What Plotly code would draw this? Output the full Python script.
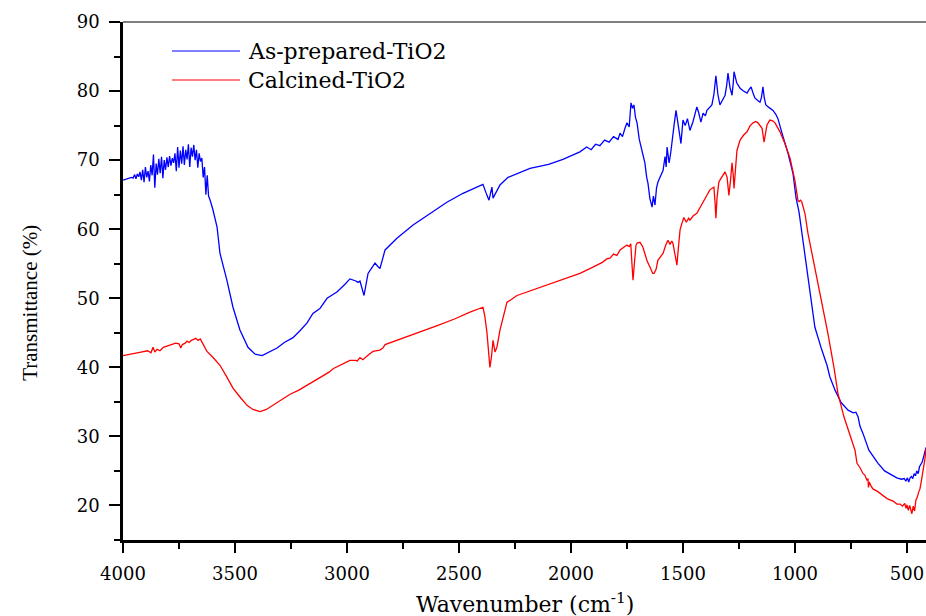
import plotly.graph_objects as go

# ---------------- data ----------------
series_names = ["As-prepared-TiO2", "Calcined-TiO2"]
series_colors = ["#0000ff", "#ff0000"]

asprep_wn = [4000, 3990, 3975, 3962, 3955, 3948, 3942, 3936, 3930, 3924, 3918, 3912, 3906, 3900, 3894,
             3888, 3882, 3876, 3870, 3864, 3858, 3852, 3846, 3840, 3834, 3828, 3822, 3816, 3810, 3804,
             3798, 3792, 3786, 3780, 3774, 3768, 3762, 3756, 3750, 3744, 3738, 3732, 3726, 3720, 3714,
             3708, 3702, 3696, 3690, 3684, 3678, 3672, 3666, 3660, 3654, 3648, 3642, 3636, 3630, 3624,
             3618, 3612, 3600, 3590, 3580, 3567, 3536, 3509, 3478, 3442, 3410, 3379, 3345, 3312, 3280,
             3241, 3210, 3179, 3152, 3121, 3089, 3045, 3010, 2987, 2960, 2951, 2942, 2924, 2906, 2875,
             2862, 2853, 2830, 2777, 2705, 2630, 2554, 2482, 2393, 2375, 2366, 2353, 2348, 2317, 2281,
             2183, 2100, 2036, 1960, 1930, 1910, 1890, 1871, 1850, 1830, 1810, 1790, 1781, 1770, 1760,
             1750, 1740, 1732, 1725, 1719, 1712, 1705, 1695, 1683, 1670, 1662, 1656, 1648, 1638, 1632,
             1625, 1618, 1612, 1600, 1589, 1580, 1575, 1571, 1562, 1555, 1549, 1540, 1531, 1524, 1518,
             1509, 1500, 1490, 1480, 1469, 1455, 1445, 1438, 1430, 1420, 1410, 1400, 1393, 1380, 1371,
             1362, 1353, 1344, 1335, 1325, 1312, 1305, 1299, 1290, 1281, 1276, 1272, 1260, 1245, 1230,
             1214, 1205, 1196, 1188, 1179, 1165, 1156, 1150, 1143, 1137, 1130, 1115, 1098, 1085, 1076,
             1058, 1031, 1009, 995, 982, 964, 947, 929, 911, 880, 857, 844, 821, 794, 763,
             740, 728, 718, 710, 696, 670, 629, 600, 567, 545, 525, 512, 505, 498, 492,
             486, 480, 474, 468, 462, 456, 450, 444, 438, 432, 426, 420, 415]
asprep_T = [67.1, 67.2, 67.3, 67.5, 67.4, 67.9, 67.3, 68.0, 67.6, 68.3, 67.1, 68.6, 66.8, 69.0, 67.5,
            68.4, 66.9, 69.3, 67.8, 70.8, 66.0, 69.5, 67.9, 70.2, 68.1, 70.5, 67.4, 70.0, 68.6, 70.4,
            69.0, 70.6, 69.2, 70.3, 69.6, 71.0, 68.4, 71.9, 68.9, 71.4, 69.5, 72.0, 69.3, 71.5, 70.1,
            72.3, 69.0, 71.8, 70.5, 72.2, 70.0, 71.5, 68.9, 71.0, 69.8, 70.3, 67.5, 69.0, 65.0, 67.8,
            64.8, 64.3, 63.0, 61.5, 60.3, 56.5, 52.6, 48.7, 45.4, 42.9, 41.9, 41.7, 42.2, 42.8, 43.6,
            44.3, 45.3, 46.4, 47.8, 48.5, 50.0, 50.9, 52.0, 52.8, 52.5, 52.3, 52.5, 50.4, 53.6, 55.1,
            54.6, 54.3, 57.0, 58.7, 60.6, 62.3, 63.9, 65.2, 66.5, 64.9, 64.2, 66.1, 64.5, 66.4, 67.5,
            68.8, 69.4, 70.1, 71.2, 71.9, 71.5, 72.3, 72.1, 72.9, 72.6, 73.4, 73.0, 73.9, 73.4, 74.5,
            75.4, 74.8, 78.3, 77.5, 78.0, 76.2, 75.4, 73.0, 71.4, 69.6, 67.5, 66.6, 64.5, 63.2, 64.8,
            63.5, 66.0, 66.8, 67.7, 68.5, 70.5, 69.0, 71.9, 69.6, 71.0, 72.9, 75.0, 77.2, 75.8, 74.6,
            72.4, 75.8, 75.0, 76.0, 74.3, 75.6, 76.8, 77.7, 76.9, 75.5, 76.8, 76.4, 77.2, 77.6, 78.0,
            79.5, 82.2, 79.5, 78.0, 78.6, 79.4, 80.8, 82.6, 80.5, 79.4, 81.0, 82.8, 81.2, 80.4, 80.0,
            79.7, 80.2, 80.6, 79.8, 79.0, 78.6, 78.4, 79.0, 80.6, 79.0, 78.0, 77.6, 77.2, 76.6, 76.0,
            73.9, 71.0, 68.1, 64.5, 62.5, 58.4, 54.5, 49.7, 45.8, 42.5, 40.3, 38.6, 36.7, 34.9, 33.8,
            33.4, 33.5, 32.8, 31.5, 30.4, 28.0, 26.1, 25.0, 24.4, 24.0, 23.8, 23.9, 23.5, 24.0, 23.4,
            24.0, 24.2, 23.9, 24.6, 24.3, 25.0, 24.6, 25.6, 25.9, 26.3, 27.0, 27.6, 28.4]

calc_wn = [4000, 3960, 3920, 3890, 3875, 3866, 3858, 3848, 3835, 3820, 3800, 3780, 3765, 3750, 3742,
           3735, 3722, 3714, 3705, 3695, 3685, 3675, 3665, 3655, 3645, 3632, 3625, 3600, 3567, 3540,
           3509, 3475, 3446, 3420, 3388, 3360, 3330, 3290, 3254, 3215, 3179, 3140, 3107, 3080, 3062,
           3020, 2987, 2960, 2955, 2942, 2929, 2905, 2884, 2853, 2840, 2830, 2760, 2688, 2600, 2520,
           2451, 2393, 2385, 2375, 2362, 2355, 2348, 2339, 2330, 2317, 2300, 2286, 2241, 2107, 1960,
           1902, 1860, 1840, 1826, 1810, 1795, 1781, 1765, 1750, 1740, 1733, 1728, 1723, 1717, 1710,
           1705, 1692, 1680, 1670, 1660, 1647, 1635, 1629, 1620, 1612, 1600, 1589, 1578, 1567, 1558,
           1550, 1545, 1535, 1527, 1520, 1513, 1505, 1496, 1485, 1475, 1469, 1455, 1438, 1425, 1411,
           1395, 1380, 1370, 1362, 1357, 1353, 1348, 1340, 1335, 1320, 1312, 1303, 1295, 1288, 1281,
           1276, 1272, 1266, 1259, 1245, 1230, 1214, 1200, 1187, 1175, 1165, 1155, 1147, 1138, 1130,
           1125, 1112, 1100, 1089, 1067, 1045, 1022, 1000, 987, 982, 975, 969, 955, 942, 911,
           880, 853, 826, 808, 781, 763, 754, 732, 723, 710, 696, 688, 678, 674, 672,
           669, 660, 652, 630, 607, 589, 560, 545, 531, 520, 510, 504, 500, 494, 488,
           482, 478, 472, 466, 460, 455, 448, 442, 436, 430, 425, 420, 415]
calc_T = [41.7, 42.0, 42.2, 42.4, 42.1, 42.9, 42.2, 42.6, 42.4, 42.9, 43.1, 43.3, 43.5, 43.4, 42.8,
          43.3, 43.5, 43.8, 43.6, 43.9, 44.0, 44.2, 43.9, 44.1, 43.5, 42.7, 42.3, 41.5, 40.3, 38.8,
          37.0, 35.6, 34.5, 33.9, 33.6, 33.9, 34.5, 35.4, 36.1, 36.7, 37.4, 38.2, 38.8, 39.3, 39.8,
          40.5, 41.0, 41.0, 40.9, 41.4, 41.1, 41.8, 42.3, 42.5, 42.8, 43.3, 44.1, 44.9, 46.0, 47.0,
          48.0, 48.7, 47.5, 45.0, 40.0, 41.5, 43.9, 42.2, 43.0, 45.4, 47.8, 49.4, 50.4, 51.9, 53.6,
          54.5, 55.2, 55.7, 55.8, 56.4, 56.2, 57.0, 57.3, 57.7, 57.5, 57.9, 55.1, 52.6, 55.0, 57.6,
          58.0, 58.1, 57.5, 56.5, 55.4, 54.5, 53.6, 53.6, 54.2, 55.5, 56.0, 56.5, 57.6, 58.4, 57.8,
          58.3, 58.0, 56.0, 54.8, 57.5, 59.9, 60.8, 61.7, 61.0, 61.6, 61.3, 61.9, 62.3, 63.0, 63.9,
          64.8, 65.7, 66.0, 66.1, 64.0, 61.6, 64.5, 66.8, 67.1, 67.8, 68.3, 67.5, 64.9, 67.0, 69.6,
          68.0, 65.9, 68.5, 71.4, 72.9, 73.6, 74.1, 75.0, 75.4, 75.6, 75.4, 75.0, 74.6, 72.6, 74.0,
          75.1, 75.8, 75.7, 75.4, 74.1, 72.4, 70.3, 67.0, 64.2, 64.0, 64.2, 63.9, 62.2, 59.4, 54.5,
          49.7, 44.9, 40.0, 36.2, 32.8, 31.0, 30.4, 28.0, 26.1, 25.5, 24.6, 24.4, 23.6, 23.9, 22.6,
          23.4, 22.8, 22.4, 22.0, 21.4, 21.0, 20.6, 20.2, 20.2, 19.9, 20.3, 19.6, 20.1, 19.3, 20.0,
          19.1, 18.8, 19.9, 19.2, 20.8, 21.1, 21.9, 22.4, 23.5, 24.6, 25.5, 26.7, 28.2]

x_range = [4000, 415]
y_range = [15, 90]
x_tick_vals = [4000, 3500, 3000, 2500, 2000, 1500, 1000, 500]
y_tick_vals = [20, 30, 40, 50, 60, 70, 80, 90]

x_title = "Wavenumber (cm<sup>-1</sup>)"
y_title = "Transmittance (%)"

# ---------------- figure ----------------
fig = go.Figure()
for name, color, xs, ys in [(series_names[0], series_colors[0], asprep_wn, asprep_T),
                            (series_names[1], series_colors[1], calc_wn, calc_T)]:
    fig.add_trace(go.Scatter(x=xs, y=ys, mode="lines", name=name,
                             line=dict(color=color, width=1.3), showlegend=False))

tick_font = dict(family="DejaVu Serif", size=18, color="black")

fig.update_layout(
    width=926, height=616,
    margin=dict(l=123, r=0, t=22, b=76, autoexpand=False),
    paper_bgcolor="white", plot_bgcolor="white",
    xaxis=dict(range=x_range, tickvals=x_tick_vals, ticks="outside", ticklen=10, tickwidth=2,
               tickcolor="black", showline=True, linecolor="black", linewidth=2.5,
               showgrid=False, zeroline=False, tickfont=tick_font, ticklabelstandoff=6,
               automargin=False,
               minor=dict(dtick=250, tick0=0, ticks="outside", ticklen=6, tickwidth=2,
                          tickcolor="black", showgrid=False)),
    yaxis=dict(range=y_range, tickvals=y_tick_vals, ticks="outside", ticklen=11, tickwidth=2,
               tickcolor="black", showline=True, linecolor="black", linewidth=2.5,
               showgrid=False, zeroline=False, tickfont=tick_font, ticklabelstandoff=6,
               automargin=False,
               minor=dict(dtick=5, tick0=0, ticks="outside", ticklen=6, tickwidth=2,
                          tickcolor="black", showgrid=False)),
)

# top frame line
fig.add_shape(type="line", xref="paper", yref="paper", x0=0, x1=1, y0=1, y1=1,
              line=dict(color="#808080", width=2))

# axis titles
fig.add_annotation(text=x_title, xref="paper", yref="paper", x=0.5, y=-0.122,
                   xanchor="center", yanchor="middle", showarrow=False,
                   font=dict(family="DejaVu Serif", size=22, color="black"))
fig.add_annotation(text=y_title, xref="paper", yref="paper", x=-0.116, y=0.4575,
                   xanchor="center", yanchor="middle", showarrow=False, textangle=-90,
                   font=dict(family="Liberation Serif", size=21, color="black"))

# legend (drawn manually to match the long line samples)
legend_y = [0.944, 0.888]
for name, color, ly in zip(series_names, series_colors, legend_y):
    fig.add_shape(type="line", xref="paper", yref="paper", x0=0.061, x1=0.1457, y0=ly, y1=ly,
                  line=dict(color=color, width=1.2))
    fig.add_annotation(text=name, xref="paper", yref="paper", x=0.1532, y=ly,
                       xanchor="left", yanchor="middle", showarrow=False,
                       font=dict(family="DejaVu Serif", size=22, color="black"))

# remove the default page margin so the 926x616 figure fills the window exactly
fig.write_html("out.html",
               config={"displayModeBar": False},
               post_script="document.body.style.margin='0';"
                           "document.documentElement.style.overflow='hidden';"
                           "document.body.style.overflow='hidden';")
